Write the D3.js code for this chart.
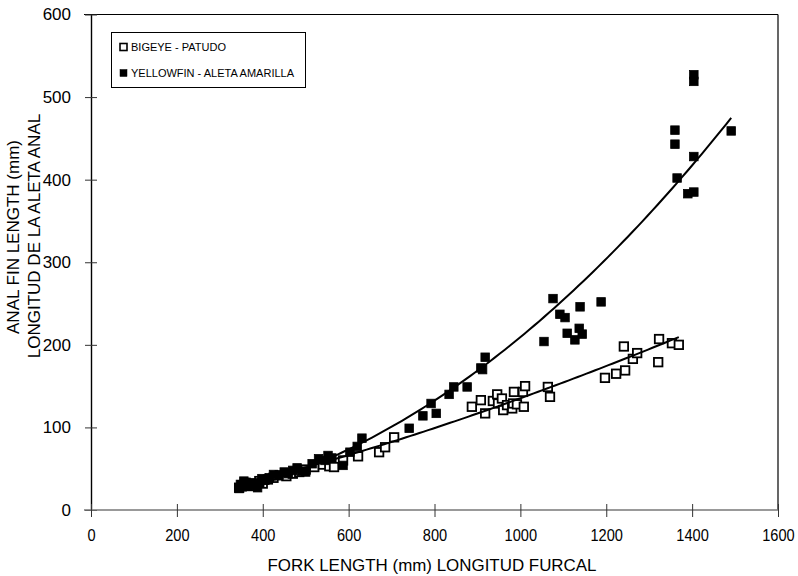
<!DOCTYPE html>
<html>
<head>
<meta charset="utf-8">
<script src="https://cdn.jsdelivr.net/npm/d3@7"></script>
<style>
  html, body { margin: 0; padding: 0; background: #fff; }
  svg { display: block; font-family: "Liberation Sans", Arial, sans-serif; }
</style>
</head>
<body>
<svg id="chart" width="798" height="576"></svg>
<script>
// Fork length (mm) and anal fin length (mm) per fish
const bigeyeFL  = [345, 352, 360, 372, 380, 392, 400, 412, 425, 440, 455, 470, 485, 500, 520, 540, 555, 566, 587, 622, 671, 685, 706,
                   887, 908, 918, 936, 948, 946, 957, 960, 969, 981, 983, 985, 992, 1006, 1008, 1011, 1064, 1069,
                   1197, 1223, 1244, 1241, 1262, 1272, 1321, 1323, 1353, 1369];
const bigeyeAFL = [27, 30, 33, 29, 31, 35, 32, 37, 39, 42, 41, 44, 46, 49, 52, 55, 53, 52, 60, 65, 70, 76, 88,
                   125, 133, 117, 132, 129, 140, 135, 121, 127, 123, 129, 143, 128, 143, 125, 150, 149, 137,
                   160, 165, 169, 198, 183, 190, 179, 207, 202, 200];

const yellowfinFL  = [345, 348, 352, 356, 365, 372, 380, 388, 393, 398, 405, 415, 425, 438, 450, 460, 470, 480, 490, 500,
                      515, 530, 545, 552, 561, 587, 603, 620, 631, 741, 773, 792, 804, 834, 845, 876, 908, 912, 918,
                      1055, 1076, 1092, 1104, 1109, 1127, 1137, 1139, 1144, 1188,
                      1360, 1360, 1365, 1390, 1404, 1404, 1404, 1404, 1491];
const yellowfinAFL = [26, 31, 28, 35, 29, 33, 30, 27, 33, 38, 36, 39, 43, 42, 46, 44, 48, 51, 47, 46,
                      56, 62, 60, 66, 63, 54, 70, 77, 87, 99, 114, 129, 117, 140, 149, 149, 172, 170, 185,
                      204, 256, 237, 233, 214, 206, 220, 246, 213, 252,
                      460, 443, 402, 383, 385, 428, 519, 527, 459];

// Power trend lines, AFL = a * FL^b
const bigeyeTrend    = { a: 0.009147, b: 1.39 };
const yellowfinTrend = { a: 1.482e-4, b: 2.05 };

const xTicks = [0, 200, 400, 600, 800, 1000, 1200, 1400, 1600];
const yTicks = [0, 100, 200, 300, 400, 500, 600];
const seriesNames = ["BIGEYE - PATUDO", "YELLOWFIN - ALETA AMARILLA"];
const xTitle = "FORK LENGTH (mm) LONGITUD FURCAL";
const yTitleLines = ["ANAL FIN LENGTH (mm)", "LONGITUD DE LA ALETA ANAL"];

const svg = d3.select("#chart");
const plotL = 91, plotR = 778, plotT = 14.5, plotB = 510;

const x = d3.scaleLinear().domain([0, 1600]).range([plotL, plotR]);
const y = d3.scaleLinear().domain([0, 600]).range([plotB, plotT]);

// Frame: top and right borders
svg.append("line").attr("x1", plotL - 7).attr("x2", plotR).attr("y1", plotT).attr("y2", plotT)
  .attr("stroke", "#000").attr("stroke-width", 1.2);
svg.append("line").attr("x1", plotR).attr("x2", plotR).attr("y1", plotT).attr("y2", plotB)
  .attr("stroke", "#000").attr("stroke-width", 1.2);

// Y axis
const yAxis = svg.append("g").attr("transform", `translate(${plotL},0)`)
  .call(d3.axisLeft(y).tickValues(yTicks).tickFormat(d3.format("d"))
    .tickSize(6).tickPadding(14).tickSizeOuter(0));
yAxis.select(".domain").attr("stroke", "#000").attr("stroke-width", 1.4);
yAxis.selectAll(".tick line").attr("x1", 6).attr("x2", -6).attr("stroke", "#333");
yAxis.selectAll(".tick text").attr("font-size", 17).attr("fill", "#000")
  .attr("font-family", "Liberation Sans, Arial, sans-serif");

// X axis
const xAxis = svg.append("g").attr("transform", `translate(0,${plotB})`)
  .call(d3.axisBottom(x).tickValues(xTicks).tickFormat(d3.format("d"))
    .tickSize(7).tickPadding(12).tickSizeOuter(0));
xAxis.select(".domain").attr("stroke", "#777").attr("stroke-width", 1.4)
  .attr("d", `M${plotL - 7},0H${plotR}`);
xAxis.selectAll(".tick line").attr("y1", -6).attr("y2", 7).attr("stroke", "#333");
xAxis.selectAll(".tick text").attr("font-size", 17).attr("fill", "#000")
  .attr("font-family", "Liberation Sans, Arial, sans-serif")
  .attr("transform", "scale(0.86,1)")
  .attr("x", 0);

// Axis titles
svg.append("text").attr("x", 432).attr("y", 571).attr("text-anchor", "middle")
  .attr("font-size", 17).attr("textLength", 329).attr("lengthAdjust", "spacingAndGlyphs")
  .text(xTitle);
[[19, 237], [40, 236]].forEach(([cx, cy], i) => {
  svg.append("text").attr("transform", `translate(${cx},${cy}) rotate(-90)`)
    .attr("text-anchor", "middle").attr("font-size", 17).text(yTitleLines[i]);
});

const size = 8.5;
function drawSeries(xs, ys, filled) {
  svg.append("g").selectAll("rect").data(xs.map((v, i) => [v, ys[i]])).join("rect")
    .attr("x", d => x(d[0]) - size / 2).attr("y", d => y(d[1]) - size / 2)
    .attr("width", size).attr("height", size)
    .attr("fill", filled ? "#000" : "#fff")
    .attr("stroke", "#000").attr("stroke-width", filled ? 0.8 : 1.8);
}
drawSeries(bigeyeFL, bigeyeAFL, false);
drawSeries(yellowfinFL, yellowfinAFL, true);

function drawTrend(xs, t) {
  const f = v => t.a * Math.pow(v, t.b);
  const [lo, hi] = d3.extent(xs);
  const pts = d3.range(0, 101).map(k => lo + (hi - lo) * k / 100);
  svg.append("path").datum(pts)
    .attr("d", d3.line().x(v => x(v)).y(v => y(f(v))))
    .attr("fill", "none").attr("stroke", "#000").attr("stroke-width", 2);
}
drawTrend(bigeyeFL, bigeyeTrend);
drawTrend(yellowfinFL, yellowfinTrend);

// Legend
const lg = svg.append("g");
lg.append("rect").attr("x", 111.5).attr("y", 32.5).attr("width", 194).attr("height", 55)
  .attr("fill", "#fff").attr("stroke", "#000").attr("stroke-width", 1);
seriesNames.forEach((name, i) => {
  const cy = 47 + i * 26;
  lg.append("rect").attr("x", 120).attr("y", cy - 3.5).attr("width", 7).attr("height", 7)
    .attr("fill", i ? "#000" : "#fff").attr("stroke", "#000").attr("stroke-width", i ? 0.5 : 1.6);
  lg.append("text").attr("x", 131).attr("y", cy + 4).attr("font-size", 11).text(name);
});
</script>
</body>
</html>
